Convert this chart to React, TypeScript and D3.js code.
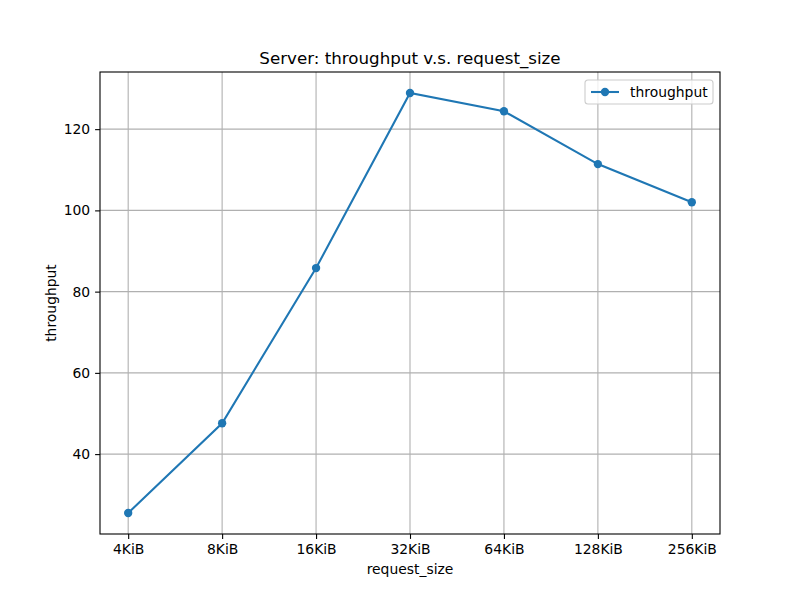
import React, { useRef, useEffect } from 'react';
import * as d3 from 'd3';

const requestSizes = ['4KiB', '8KiB', '16KiB', '32KiB', '64KiB', '128KiB', '256KiB'];
const throughput = [25.5, 47.6, 85.8, 128.9, 124.4, 111.4, 102.0];
const yTicks = [40, 60, 80, 100, 120];

const App = () => {
  const ref = useRef<SVGSVGElement>(null);

  useEffect(() => {
    if (!ref.current) return;
    const svg = d3.select(ref.current);
    svg.selectAll('*').remove();

    const margin = { top: 72, right: 80, bottom: 66, left: 100 };
    const width = 800 - margin.left - margin.right;
    const height = 600 - margin.top - margin.bottom;
    const font = 'DejaVu Sans, sans-serif';
    const blue = '#1f77b4';

    const g = svg.append('g').attr('transform', `translate(${margin.left},${margin.top})`);

    const n = requestSizes.length;
    const x = d3.scaleLinear().domain([-0.3, n - 1 + 0.3]).range([0, width]);
    const lo = d3.min(throughput)!;
    const hi = d3.max(throughput)!;
    const pad = (hi - lo) * 0.05;
    const y = d3.scaleLinear().domain([lo - pad, hi + pad]).range([height, 0]);

    // grid
    g.append('g')
      .selectAll('line')
      .data(requestSizes)
      .join('line')
      .attr('x1', (_, i) => x(i)).attr('x2', (_, i) => x(i))
      .attr('y1', 0).attr('y2', height)
      .attr('stroke', '#b0b0b0').attr('stroke-width', 1.1);
    g.append('g')
      .selectAll('line')
      .data(yTicks)
      .join('line')
      .attr('x1', 0).attr('x2', width)
      .attr('y1', d => y(d)).attr('y2', d => y(d))
      .attr('stroke', '#b0b0b0').attr('stroke-width', 1.1);

    // axes
    const xAxis = g.append('g')
      .attr('transform', `translate(0,${height})`)
      .call(d3.axisBottom(x).tickValues(d3.range(n)).tickFormat(i => requestSizes[+i]).tickSize(4.9).tickPadding(4.9));
    const yAxis = g.append('g')
      .call(d3.axisLeft(y).tickValues(yTicks).tickSize(4.9).tickPadding(4.9));
    [xAxis, yAxis].forEach(a => {
      a.select('.domain').remove();
      a.selectAll('text').attr('font-family', font).attr('font-size', 13.9).attr('fill', '#000');
      a.selectAll('line').attr('stroke', '#000').attr('stroke-width', 1.1);
    });

    // frame
    g.append('rect')
      .attr('width', width).attr('height', height)
      .attr('fill', 'none').attr('stroke', '#000').attr('stroke-width', 1.1);

    // line
    const line = d3.line<number>().x((_, i) => x(i)).y(d => y(d));
    g.append('path')
      .datum(throughput)
      .attr('d', line)
      .attr('fill', 'none')
      .attr('stroke', blue)
      .attr('stroke-width', 2.08);
    g.selectAll('circle.pt')
      .data(throughput)
      .join('circle')
      .attr('class', 'pt')
      .attr('cx', (_, i) => x(i))
      .attr('cy', d => y(d))
      .attr('r', 4.17)
      .attr('fill', blue);

    // title & labels
    svg.append('text')
      .attr('x', margin.left + width / 2).attr('y', margin.top - 8)
      .attr('text-anchor', 'middle')
      .attr('font-family', font).attr('font-size', 16.7)
      .text('Server: throughput v.s. request_size');
    svg.append('text')
      .attr('x', margin.left + width / 2).attr('y', margin.top + height + 40)
      .attr('text-anchor', 'middle')
      .attr('font-family', font).attr('font-size', 13.9)
      .text('request_size');
    svg.append('text')
      .attr('transform', `translate(56,${margin.top + height / 2}) rotate(-90)`)
      .attr('text-anchor', 'middle')
      .attr('font-family', font).attr('font-size', 13.9)
      .text('throughput');

    // legend
    const lg = g.append('g').attr('transform', `translate(${width - 135},8)`);
    lg.append('rect')
      .attr('width', 128).attr('height', 24).attr('rx', 3)
      .attr('fill', '#fff').attr('fill-opacity', 0.8)
      .attr('stroke', '#cccccc').attr('stroke-width', 1.1);
    lg.append('line')
      .attr('x1', 6).attr('x2', 34).attr('y1', 12).attr('y2', 12)
      .attr('stroke', blue).attr('stroke-width', 2.08);
    lg.append('circle').attr('cx', 20).attr('cy', 12).attr('r', 4.17).attr('fill', blue);
    lg.append('text')
      .attr('x', 45).attr('y', 17)
      .attr('font-family', font).attr('font-size', 13.9)
      .text('throughput');
  }, []);

  return <svg ref={ref} width={800} height={600} style={{ display: 'block', margin: -8 }} />;
};

export default App;
